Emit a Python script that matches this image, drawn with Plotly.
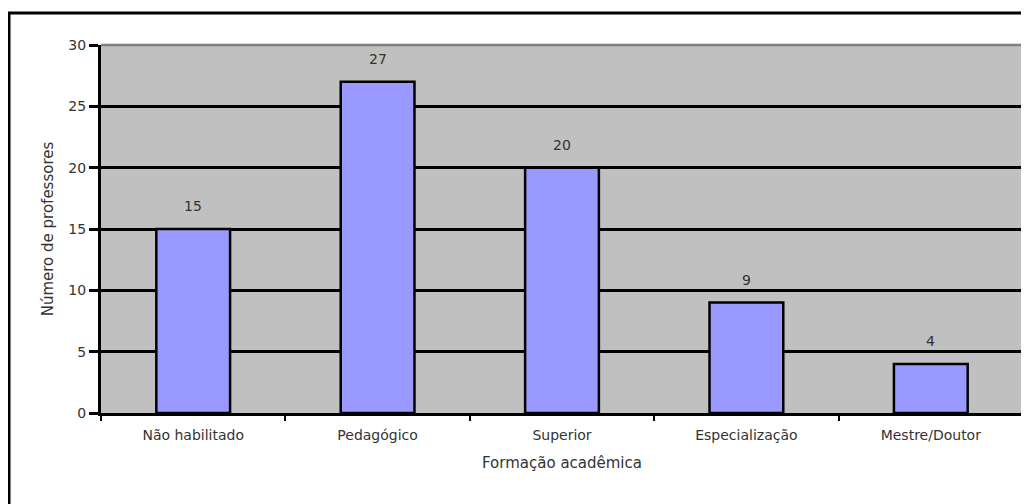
import plotly.graph_objects as go

categories = ["Não habilitado", "Pedagógico", "Superior", "Especialização", "Mestre/Doutor"]
values = [15, 27, 20, 9, 4]
y_ticks = [0, 5, 10, 15, 20, 25, 30]

FONT = "DejaVu Sans, Arial, sans-serif"
TXT = "#333333"

fig = go.Figure()
fig.add_trace(go.Bar(
    x=categories, y=values, width=0.4,
    marker=dict(color="#9999FF", line=dict(color="black", width=2.5)),
    hoverinfo="skip",
))

for c, v in zip(categories, values):
    fig.add_annotation(x=c, y=v, text=str(v), showarrow=False, yshift=23,
                       font=dict(family=FONT, size=14, color=TXT))

# page has an 8px body margin; compensate so the plot sits where the reference has it
fig.update_layout(
    width=1021, height=496,
    margin=dict(l=93, r=6, t=37, b=91),
    paper_bgcolor="white", plot_bgcolor="#C0C0C0",
    showlegend=False,
    font=dict(family=FONT, size=14, color=TXT),
    bargap=0.6,
)
fig.update_xaxes(
    showline=True, linecolor="black", linewidth=3,
    ticks="outside", tickson="boundaries", ticklen=5, tickwidth=2, tickcolor="black",
    showgrid=False, zeroline=False,
    ticklabelstandoff=7,
    tickfont=dict(family=FONT, size=14, color=TXT),
    title=dict(text="Formação acadêmica", font=dict(family=FONT, size=15, color=TXT), standoff=16),
)
fig.update_yaxes(
    range=[0, 30], tickvals=y_ticks,
    showline=True, linecolor="black", linewidth=3,
    ticks="outside", ticklen=9, tickwidth=2.5, tickcolor="black",
    showgrid=True, gridcolor="black", gridwidth=2.5,
    zeroline=False,
    tickfont=dict(family=FONT, size=14, color=TXT),
    title=dict(text="Número de professores", font=dict(family=FONT, size=15, color=TXT), standoff=12),
)

# gray border on top and right of plot area
fig.add_shape(type="line", xref="paper", yref="paper", x0=0, x1=1, y0=1, y1=1,
              line=dict(color="#808080", width=2.5), layer="above")
fig.add_shape(type="line", xref="paper", yref="paper", x0=1, x1=1, y0=0, y1=1,
              line=dict(color="#808080", width=2.5), layer="above")

# outer frame (extends beyond the image on right/bottom)
fig.add_shape(type="rect", xref="paper", yref="paper",
              x0=-92/922, x1=1.2, y0=-0.5, y1=1 + 32/368,
              line=dict(color="black", width=3), fillcolor="rgba(0,0,0,0)", layer="above")

fig.write_html("out.html")
